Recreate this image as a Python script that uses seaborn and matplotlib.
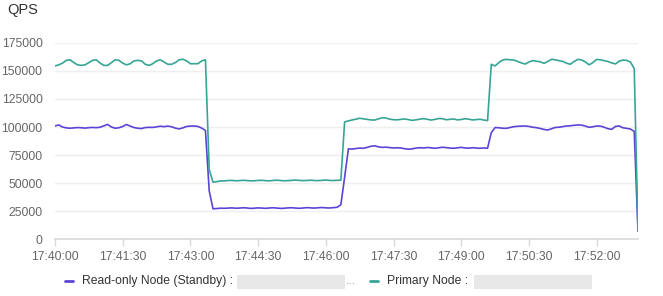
import numpy as np
import pandas as pd
import matplotlib
matplotlib.use("Agg")
import matplotlib.pyplot as plt
from matplotlib.ticker import FuncFormatter, FixedLocator
from matplotlib.lines import Line2D
from matplotlib.patches import Rectangle
import seaborn as sns

# ---- data (seconds after 17:40:00, sampled every 5 s) ----
seconds = list(range(0, 780, 5))

primary_qps = [
    154500, 155500, 157000, 159500, 160000, 157500, 155500, 155000, 155500, 157500,
    159500, 160000, 157000, 155000, 155000, 157500, 160000, 159500, 157000, 155500,
    156500, 159000, 159500, 159000, 156000, 155000, 156500, 159000, 160000, 158000,
    156000, 156000, 157500, 160000, 160500, 159000, 156500, 156500, 156500, 159000,
    160000, 62000,
    50800, 51200, 51800, 51900, 52200, 52300, 52000, 52100, 52400, 52200,
    51900, 52000, 52300, 52400, 52100, 51900, 52300, 52500, 52200, 52000,
    52100, 52400, 52600, 52300, 52100, 52300, 52500, 52200, 52100, 52400,
    52600, 52300, 52200, 52400, 52500,
    104500, 105500, 106200, 107000, 107800, 107300, 106800, 106300, 106200, 107200,
    108300, 108000, 107000, 106500, 106400, 106800, 107200, 106600, 105900, 106400,
    107000, 107500, 106800, 106200, 106800, 107600, 107400, 106500, 106800, 107200,
    106300, 106700, 107400, 107000, 106300, 106600, 106900, 106200, 105700,
    156000, 154500, 157500, 159800, 160400, 160000, 159800, 158500, 157200, 156200,
    158000, 159300, 158800, 158200, 156800, 158500, 160400, 160000, 159300, 158500,
    157000, 156000, 158500, 160400, 159800, 158200, 155500, 157500, 160300, 160000,
    159300, 158500, 157200, 156300, 158800, 159800, 159500, 158000, 152000,
    7000,
]

readonly_qps = [
    101000, 101800, 100000, 99200, 98900, 99200, 99500, 99300, 99000, 99400,
    99600, 99400, 99800, 101000, 102300, 100000, 98900, 99300, 100500, 102200,
    100800, 99500, 98900, 98600, 99500, 99700, 99600, 100200, 100700, 100300,
    100800, 100200, 99000, 98300, 99200, 100500, 100800, 100900, 100500, 99000,
    97000, 43000,
    27000, 27200, 27500, 27400, 27600, 27800, 27500, 27600, 27900, 27700,
    27300, 27500, 27800, 27600, 27400, 27700, 27900, 27600, 27300, 27500,
    27800, 27900, 27600, 27400, 27700, 28000, 27800, 27600, 27900, 28100,
    27800, 27700, 28000, 28300, 30500,
    55000, 80500, 80300, 80800, 81200, 81000, 81800, 82800, 83200, 82300,
    81800, 82000, 81600, 81300, 81500, 81200, 80600, 80200, 80500, 81200,
    81500, 81300, 81700, 81400, 81000, 81500, 81900, 81600, 81200, 81000,
    81400, 81800, 81300, 81100, 81500, 81200, 81000, 81300, 81000,
    95000, 99500, 99300, 98900, 98800, 99500, 100300, 100600, 100800, 100900,
    100500, 99800, 99400, 98700, 97800, 97300, 98500, 99600, 99800, 100300,
    100900, 101100, 101500, 101800, 101700, 100800, 99700, 100200, 100900, 100800,
    99800, 98500, 97900, 100500, 100900, 99300, 98800, 98200, 96000,
    7000,
]

series_names = ["Read-only Node (Standby)", "Primary Node"]
series_colors = ["#5a45d6", "#36a596"]
y_ticks = [0, 25000, 50000, 75000, 100000, 125000, 150000, 175000]
x_tick_seconds = [0, 90, 180, 270, 360, 450, 540, 630, 720]

df = pd.concat([
    pd.DataFrame({"t": seconds, "qps": readonly_qps, "node": series_names[0]}),
    pd.DataFrame({"t": seconds, "qps": primary_qps, "node": series_names[1]}),
], ignore_index=True)

sns.set_theme(style="white")
plt.rcParams["font.family"] = ["Liberation Sans", "DejaVu Sans"]

W, H = 663, 296
fig = plt.figure(figsize=(W / 100, H / 100), dpi=100)
ax = fig.add_axes([55 / W, 1 - 239 / H, (638 - 55) / W, (239 - 43) / H])

sns.lineplot(data=df, x="t", y="qps", hue="node", palette=series_colors,
             hue_order=series_names, linewidth=1.2, ax=ax, legend=False,
             estimator=None, sort=False)

ax.set_xlim(0, 775)
ax.set_ylim(0, 175000)
ax.yaxis.set_major_locator(FixedLocator(y_ticks))
ax.xaxis.set_major_locator(FixedLocator(x_tick_seconds))


def fmt_time(v, pos):
    s = int(round(v)) + 17 * 3600 + 40 * 60
    return f"{s // 3600:02d}:{(s % 3600) // 60:02d}:{s % 60:02d}"


ax.xaxis.set_major_formatter(FuncFormatter(fmt_time))
ax.yaxis.set_major_formatter(FuncFormatter(lambda v, p: f"{int(v)}"))
ax.set_xlabel("")
ax.set_ylabel("")

for side in ["top", "right", "left"]:
    ax.spines[side].set_visible(False)
ax.spines["bottom"].set_color("#d9d9d9")
ax.spines["bottom"].set_linewidth(1.2)
ax.grid(axis="y", color="#efefef", linewidth=1.0)
ax.grid(axis="x", visible=False)
ax.set_axisbelow(True)

ax.tick_params(axis="x", which="major", direction="out", length=5, width=1,
               color="#d9d9d9", labelsize=8.7, labelcolor="#666666", pad=4)
ax.tick_params(axis="y", which="major", length=0, labelsize=8.7,
               labelcolor="#666666", pad=9)
ax.tick_params(bottom=True, left=False)

fig.text(7 / W, 1 - 10 / H, "QPS", fontsize=10.5, color="#333333",
         ha="left", va="center")

# ---- legend (bottom) ----
ly = 1 - 281 / H
fig.add_artist(Line2D([65 / W, 73 / W], [ly, ly], color=series_colors[0],
                      linewidth=2.0, transform=fig.transFigure))
fig.text(82 / W, ly, series_names[0] + " :", fontsize=8.7, color="#333333",
         ha="left", va="center")
fig.add_artist(Rectangle((237 / W, 1 - 289 / H), (345 - 237) / W, 14 / H,
                         transform=fig.transFigure, facecolor="#e8e8e8",
                         edgecolor="none"))
fig.text(346 / W, ly, "...", fontsize=8.7, color="#999999", ha="left", va="center")

fig.add_artist(Line2D([370 / W, 378 / W], [ly, ly], color=series_colors[1],
                      linewidth=2.0, transform=fig.transFigure))
fig.text(387 / W, ly, series_names[1] + " :", fontsize=8.7, color="#333333",
         ha="left", va="center")
fig.add_artist(Rectangle((474 / W, 1 - 289 / H), (592 - 474) / W, 14 / H,
                         transform=fig.transFigure, facecolor="#e8e8e8",
                         edgecolor="none"))

fig.savefig("out.png", dpi=100, facecolor="white")
